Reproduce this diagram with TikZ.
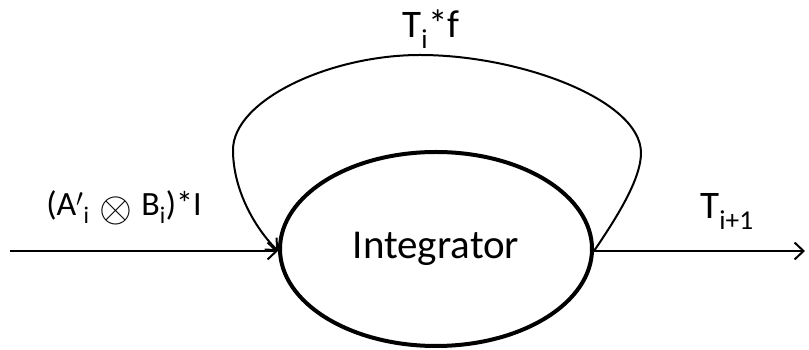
\documentclass[tikz,border=0pt]{standalone}
\usepackage{fontspec}
\setmainfont{Carlito}
\usetikzlibrary{arrows.meta, shapes.geometric}

\begin{document}
\begin{tikzpicture}[x=1pt, y=1pt]
	\useasboundingbox (0, 0) rectangle (809, 350);
	
	\begin{scope}[
		block/.style={align=center, draw, ellipse, line width=4pt, minimum width=312pt, minimum height=194pt, inner sep=0pt, font=\fontsize{41}{48}\selectfont},
		lbl/.style={anchor=base, inner sep=0pt, font=\fontsize{39}{46}\selectfont}]
		\node[block] (I) at (436, 101) {Integrator};
		
		\coordinate (In) at (10, 99);
		\coordinate (Out) at (805, 99);
		
		\node[lbl, font=\fontsize{34}{40}\selectfont] (LIn) at (124, 134) {(A$'$\textsubscript{i}\hspace{0.28em}\raisebox{-0.17em}{\scalebox{1.7}{$\otimes$}}\hspace{0.28em}B\textsubscript{i})*I};
		\node[lbl] (LOut) at (727, 131) {T\textsubscript{i+1}};
		\node[lbl] (LFb) at (431, 312) {T\textsubscript{i}*f};
	\end{scope}
	
	\draw[-{Straight Barb[length=9pt, width=17pt]}, line width=2pt] (In) -- (In -| I.west);
	\draw[-{Straight Barb[length=9pt, width=17pt]}, line width=2pt] (I.east |- Out) -- (Out);
	
	% feedback loop
	\draw[-{Straight Barb[length=9pt, width=17pt]}, line width=2pt] (I.east |- Out) .. controls (615, 130) and (641, 170) .. (641, 197) .. controls (641, 250) and (520, 295) .. (420, 295) .. controls (330, 295) and (233, 250) .. (233, 200) .. controls (233, 160) and (255, 122) .. (In -| I.west);
\end{tikzpicture}
\end{document}
